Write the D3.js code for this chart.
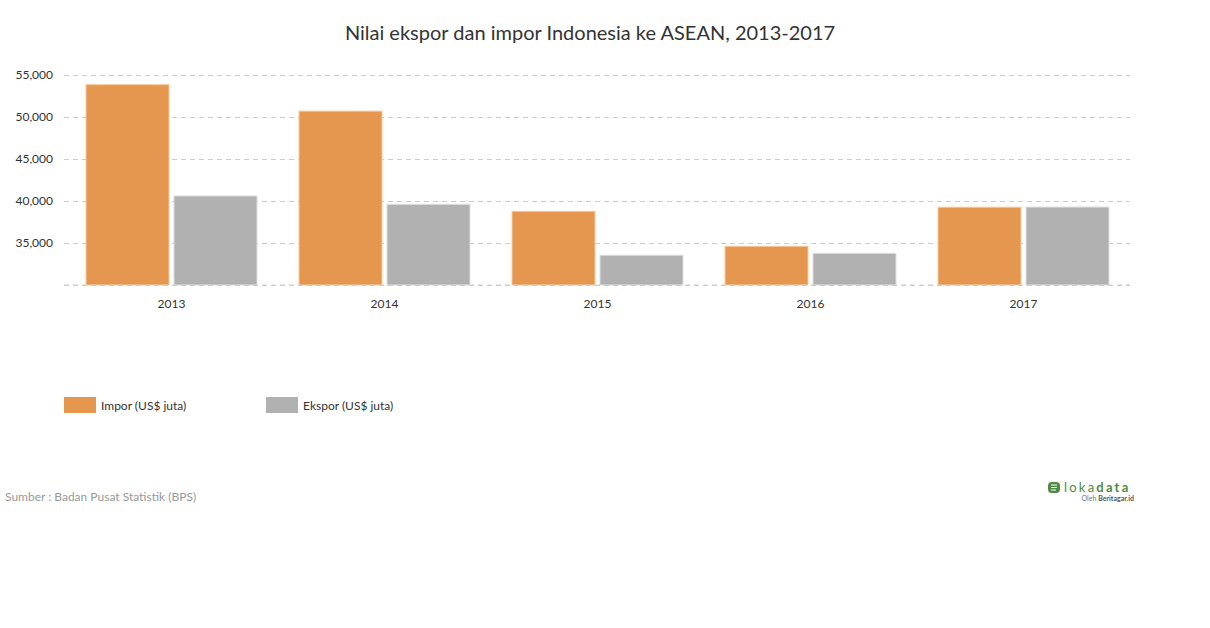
<!DOCTYPE html>
<html>
<head>
<meta charset="utf-8">
<script src="https://cdn.jsdelivr.net/npm/d3@7"></script>
<style>
  html, body { margin: 0; padding: 0; background: #fff; }
  svg { display: block; font-family: Lato, "Open Sans", sans-serif; }
</style>
</head>
<body>
<svg id="chart" width="1210" height="628"></svg>
<script>
const years = ["2013", "2014", "2015", "2016", "2017"];
const impor = [53850, 50700, 38770, 34610, 39260];
const ekspor = [40600, 39600, 33540, 33770, 39280];
const seriesNames = ["Impor (US$ juta)", "Ekspor (US$ juta)"];
const seriesColors = ["#e6974f", "#b1b1b1"];
const seriesStrokes = ["#f6c996", "#dddddd"];
const yTicks = [30000, 35000, 40000, 45000, 50000, 55000];

const svg = d3.select("#chart");
const m = { left: 64, right: 1130, top: 75, bottom: 285 };

const x = d3.scaleBand().domain(years).range([65, m.right]).paddingInner(0).paddingOuter(0);
const sub = d3.scaleBand().domain([0, 1]).range([0, x.bandwidth()]).paddingInner(0.0568).paddingOuter(0.239);
const y = d3.scaleLinear().domain([30000, 55000]).range([m.bottom, m.top]);

// title
svg.append("text").attr("x", 590).attr("y", 40).attr("text-anchor", "middle")
  .attr("font-size", 20).attr("fill", "#333").text("Nilai ekspor dan impor Indonesia ke ASEAN, 2013-2017");

// grid
const yAxis = d3.axisLeft(y).tickValues(yTicks).tickSize(-(m.right - m.left)).tickPadding(11)
  .tickFormat(d => d === 30000 ? "" : d3.format(",")(d));
const gy = svg.append("g").attr("transform", `translate(${m.left},0)`).call(yAxis);
gy.select(".domain").remove();
gy.selectAll(".tick line").attr("stroke", "#cccccc").attr("stroke-dasharray", "5,4");
gy.selectAll(".tick text").attr("font-size", 12).attr("fill", "#333").attr("font-family", "Lato, sans-serif");

// bars
const data = years.map((yr, i) => ({ yr, vals: [impor[i], ekspor[i]] }));
const groups = svg.append("g").selectAll("g").data(data).join("g")
  .attr("transform", d => `translate(${x(d.yr)},0)`);
groups.selectAll("rect").data(d => d.vals.map((v, k) => ({ v, k }))).join("rect")
  .attr("x", d => sub(d.k))
  .attr("width", sub.bandwidth())
  .attr("y", d => y(d.v))
  .attr("height", d => y(30000) - y(d.v))
  .attr("fill", d => seriesColors[d.k])
  .attr("stroke", d => seriesStrokes[d.k])
  .attr("stroke-width", 1);

// baseline on top
svg.append("line").attr("x1", m.left).attr("x2", m.right).attr("y1", y(30000)).attr("y2", y(30000))
  .attr("stroke", "#cccccc").attr("stroke-dasharray", "5,4").attr("opacity", 0.8);

// x axis labels
const xAxis = d3.axisBottom(x).tickSize(0).tickPadding(14);
const gx = svg.append("g").attr("transform", `translate(0,${m.bottom})`).call(xAxis);
gx.select(".domain").remove();
gx.selectAll(".tick text").attr("font-size", 12).attr("fill", "#333").attr("font-family", "Lato, sans-serif");

// legend
const legX = [64, 266];
seriesNames.forEach((name, k) => {
  svg.append("rect").attr("x", legX[k]).attr("y", 397).attr("width", 32).attr("height", 16)
    .attr("fill", seriesColors[k]);
  svg.append("text").attr("x", legX[k] + 37).attr("y", 410).attr("font-size", 12)
    .attr("fill", "#333").text(name);
});

// source
svg.append("text").attr("x", 5).attr("y", 501).attr("font-size", 12).attr("fill", "#999")
  .text("Sumber : Badan Pusat Statistik (BPS)");

// logo
const logo = svg.append("g");
logo.append("rect").attr("x", 1048).attr("y", 482).attr("width", 12).attr("height", 11).attr("rx", 4)
  .attr("fill", "#4e8a45");
logo.append("path").attr("d", "M1051,485 H1057 M1051,487.5 H1057 M1051,490 H1056")
  .attr("stroke", "#fff").attr("stroke-width", 1);
logo.append("text").attr("x", 1064).attr("y", 492).attr("font-size", 13).attr("fill", "#4e8a45")
  .attr("letter-spacing", 2.2).text("loka")
  .append("tspan").attr("font-weight", "bold").text("data");
logo.append("text").attr("x", 1134).attr("y", 501).attr("text-anchor", "end").attr("font-size", 7)
  .attr("fill", "#777").text("Oleh ")
  .append("tspan").attr("font-weight", "bold").attr("fill", "#555").text("Beritagar.id");
</script>
</body>
</html>
